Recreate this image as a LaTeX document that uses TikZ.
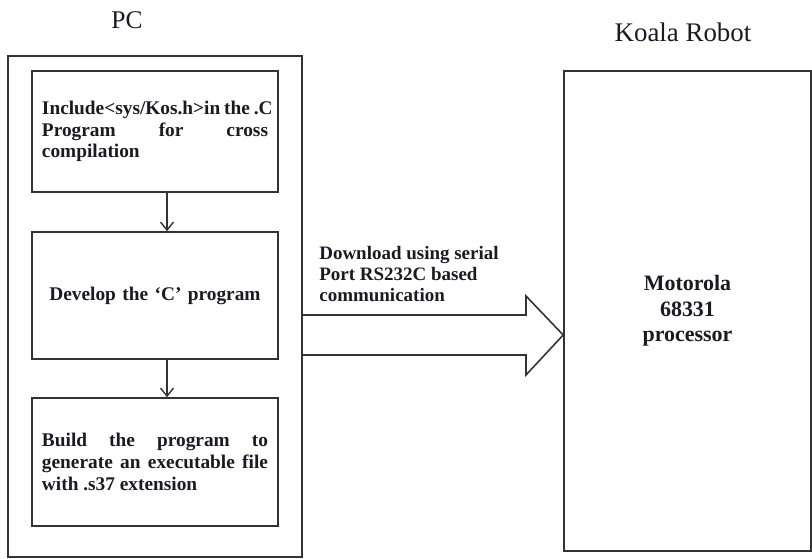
\documentclass[tikz,border=0pt]{standalone}
\usepackage{fontspec}
\setmainfont{Liberation Serif}
\usetikzlibrary{arrows.meta}
\definecolor{flowline}{HTML}{333333}
\definecolor{flowtext}{HTML}{1A1A22}

\begin{document}
\begin{tikzpicture}[
        box/.style={draw=flowline, line width=0.9pt, inner sep=0pt},
        stepbox/.style={box, inner xsep=0.2cm, text width=4.52cm, align=justify,
          font=\fontsize{11}{12.35}\selectfont\bfseries, text=flowtext},
        flow/.style={draw=flowline, line width=0.8pt, -{Straight Barb[length=1.6mm, width=2.6mm]}},
        ttl/.style={font=\fontsize{14.5}{17}\selectfont, text=flowtext},
        lbl/.style={font=\fontsize{10.8}{12}\selectfont\bfseries, text=flowtext},
      ]
      \useasboundingbox (0,0) rectangle (16.24,11.18);
      \node[box, minimum width=5.88cm, minimum height=10.02cm] (pc) at (3.10,5.05) {};
      \node[box, minimum width=4.94cm, minimum height=9.6cm] (robot) at (13.75,4.96) {};
      \node[ttl] (pcttl) at (2.54,10.78) {PC};
      \node[ttl, font=\fontsize{15.3}{17}\selectfont] (robotttl) at (13.66,10.54) {Koala Robot};
      \node[stepbox, minimum height=2.42cm] (inc) at (3.10,8.55)
        {\makebox[\linewidth][s]{Include<sys/Kos.h>in\hspace{0.2em plus 1fil}the\hspace{0.2em plus 1fil}.C}\linebreak
         Program for cross\linebreak compilation};
      \node[stepbox, minimum height=2.54cm, align=center] (dev) at (3.10,5.27)
        {Develop the `C' program};
      \node[stepbox, minimum height=2.56cm] (build) at (3.10,1.94)
        {Build the program to\linebreak generate an executable file\linebreak with .s37 extension};
      \draw[flow] ([xshift=0.24cm]inc.south) -- ([xshift=0.24cm]dev.north);
      \draw[flow] ([xshift=0.24cm]dev.south) -- ([xshift=0.24cm]build.north);
      \draw[draw=flowline, line width=0.9pt, line join=miter]
        (pc.east |- 0,4.88) -- (10.52,4.88) -- (10.52,5.26) -- (robot.west |- 0,4.48)
        -- (10.52,3.68) -- (10.52,4.08) -- (pc.east |- 0,4.08);
      \node[lbl, anchor=north west, align=left, inner sep=0pt] (dltxt) at (6.38,6.26)
        {Download using serial\\Port RS232C based\\communication};
      \node[lbl, font=\fontsize{12.5}{14.5}\selectfont\bfseries, align=center] (cpu) at (robot.center)
        {Motorola\\68331\\processor};
    \end{tikzpicture}
\end{document}
